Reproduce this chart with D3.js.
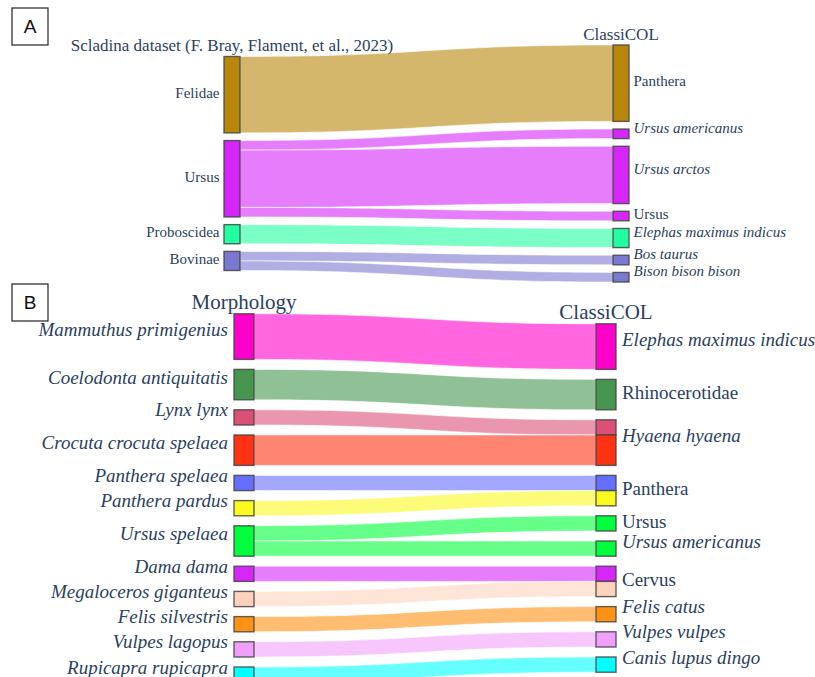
<!DOCTYPE html>
<html>
<head>
<meta charset="utf-8">
<script src="https://cdn.jsdelivr.net/npm/d3@7"></script>
<style>
  html, body { margin: 0; padding: 0; background: #fff; }
  svg { display: block; }
  .lbl, .ttl { font-family: "Liberation Serif", "Times New Roman", serif; fill: #2a3f5f; }
  .tag { font-family: "Liberation Sans", Arial, sans-serif; fill: #111; }
</style>
</head>
<body>
<svg id="chart" width="815" height="677"></svg>
<script>
// ---------- Panel A: Scladina dataset -> ClassiCOL ----------
const aTitles = ["Scladina dataset (F. Bray, Flament, et al., 2023)", "ClassiCOL"];
const aSources = ["Felidae", "Ursus", "Proboscidea", "Bovinae"];
const aSourceColors = ["#b8860b", "#d626fa", "#22ffa0", "#7b78d0"];
const aTargets = ["Panthera", "Ursus americanus", "Ursus arctos", "Ursus",
  "Elephas maximus indicus", "Bos taurus", "Bison bison bison"];
const aLinkSource = ["Felidae", "Ursus", "Ursus", "Ursus", "Proboscidea", "Bovinae", "Bovinae"];
const aLinkTarget = ["Panthera", "Ursus americanus", "Ursus arctos", "Ursus",
  "Elephas maximus indicus", "Bos taurus", "Bison bison bison"];
const aLinkValue = [8, 1, 6, 1, 2, 1, 1];

// ---------- Panel B: Morphology -> ClassiCOL ----------
const bTitles = ["Morphology", "ClassiCOL"];
const bSources = ["Mammuthus primigenius", "Coelodonta antiquitatis", "Lynx lynx",
  "Crocuta crocuta spelaea", "Panthera spelaea", "Panthera pardus", "Ursus spelaea",
  "Dama dama", "Megaloceros giganteus", "Felis silvestris", "Vulpes lagopus",
  "Rupicapra rupicapra"];
const bSourceColors = ["#ff00cc", "#469650", "#dc5078", "#ff3214", "#646eff", "#fafa1e",
  "#00ff3c", "#d626fa", "#ffd2be", "#ff9114", "#f0a0fa", "#00ffff"];
const bTargets = ["Elephas maximus indicus", "Rhinocerotidae", "Hyaena hyaena", "Panthera",
  "Ursus", "Ursus americanus", "Cervus", "Felis catus", "Vulpes vulpes", "Canis lupus dingo"];
const bLinkSource = ["Mammuthus primigenius", "Coelodonta antiquitatis", "Lynx lynx",
  "Crocuta crocuta spelaea", "Panthera spelaea", "Panthera pardus", "Ursus spelaea",
  "Ursus spelaea", "Dama dama", "Megaloceros giganteus", "Felis silvestris",
  "Vulpes lagopus", "Rupicapra rupicapra"];
const bLinkTarget = ["Elephas maximus indicus", "Rhinocerotidae", "Hyaena hyaena",
  "Hyaena hyaena", "Panthera", "Panthera", "Ursus", "Ursus americanus", "Cervus", "Cervus",
  "Felis catus", "Vulpes vulpes", "Canis lupus dingo"];
const bLinkValue = [3, 2, 1, 2, 1, 1, 1, 1, 1, 1, 1, 1, 1];

const svg = d3.select("#chart");

// Binomial (multi-word) names are set in italics, higher ranks upright.
const isItalic = name => name.includes(" ");

function drawSankey(g, cfg) {
  const { sources, sourceColors, targets, linkSource, linkTarget, linkValue, titles } = cfg;
  const x = d3.scaleLinear().domain([0, 1]).range([cfg.xLeft, cfg.xRight]);
  const h = d3.scaleLinear().domain([0, 1]).range([0, cfg.unit]);
  const color = d3.scaleOrdinal().domain(sources).range(sourceColors);

  const links = linkValue.map((v, i) => ({ source: linkSource[i], target: linkTarget[i], value: v }));

  function column(names, key) {
    const nodes = names.map(n => ({
      name: n,
      value: d3.sum(links.filter(l => l[key] === n), l => l.value)
    }));
    const total = h(d3.sum(nodes, d => d.value)) + cfg.pad * (nodes.length - 1);
    let y = cfg.centerY - total / 2;
    nodes.forEach(d => { d.y0 = y; d.y1 = y + h(d.value); y = d.y1 + cfg.pad; });
    return new Map(nodes.map(d => [d.name, d]));
  }
  const srcNodes = column(sources, "source");
  const tgtNodes = column(targets, "target");

  // stack links inside each node
  srcNodes.forEach(n => {
    let y = n.y0;
    links.filter(l => l.source === n.name)
      .sort((a, b) => targets.indexOf(a.target) - targets.indexOf(b.target))
      .forEach(l => { l.sy0 = y; l.sy1 = y + h(l.value); y = l.sy1; });
  });
  tgtNodes.forEach(n => {
    let y = n.y0;
    links.filter(l => l.target === n.name)
      .sort((a, b) => sources.indexOf(a.source) - sources.indexOf(b.source))
      .forEach(l => { l.ty0 = y; l.ty1 = y + h(l.value); y = l.ty1; });
  });

  const x0 = x(0) + cfg.nodeWidth, x1 = x(1), xm = (x0 + x1) / 2;
  const ribbon = l => {
    const p = d3.path();
    p.moveTo(x0, l.sy0);
    p.bezierCurveTo(xm, l.sy0, xm, l.ty0, x1, l.ty0);
    p.lineTo(x1, l.ty1);
    p.bezierCurveTo(xm, l.ty1, xm, l.sy1, x0, l.sy1);
    p.closePath();
    return p.toString();
  };

  g.append("g").selectAll("path").data(links).join("path")
    .attr("d", ribbon)
    .attr("fill", l => color(l.source))
    .attr("fill-opacity", 0.6)
    .attr("stroke", "#fff")
    .attr("stroke-opacity", 0.7)
    .attr("stroke-width", 0.8);

  const nodeStyle = sel => sel
    .attr("width", cfg.nodeWidth)
    .attr("stroke", "#444")
    .attr("stroke-opacity", 0.85)
    .attr("stroke-width", 1.4);

  // source nodes
  g.append("g").selectAll("rect").data([...srcNodes.values()]).join("rect")
    .attr("x", x(0)).attr("y", d => d.y0).attr("height", d => d.y1 - d.y0)
    .attr("fill", d => color(d.name))
    .call(nodeStyle);

  // target nodes, one segment per incoming flow in its source colour
  g.append("g").selectAll("rect").data(links).join("rect")
    .attr("x", x(1)).attr("y", l => l.ty0).attr("height", l => l.ty1 - l.ty0)
    .attr("fill", l => color(l.source))
    .call(nodeStyle);

  const label = (sel, anchor, xPos) => sel
    .attr("class", "lbl")
    .attr("x", xPos)
    .attr("y", d => (d.y0 + d.y1) / 2)
    .attr("dy", d => isItalic(d.name) ? "-0.05em" : "0.22em")
    .attr("text-anchor", anchor)
    .attr("font-size", cfg.fontSize)
    .attr("font-style", d => isItalic(d.name) ? "italic" : "normal")
    .text(d => d.name);

  g.append("g").selectAll("text").data([...srcNodes.values()]).join("text")
    .call(label, "end", x(0) - cfg.labelGap);
  g.append("g").selectAll("text").data([...tgtNodes.values()]).join("text")
    .call(label, "start", x(1) + cfg.nodeWidth + cfg.labelGap);

  // column headings centred above each column
  const firstSrc = srcNodes.get(sources[0]), firstTgt = tgtNodes.get(targets[0]);
  g.append("text").attr("class", "ttl")
    .attr("x", x(0) + cfg.nodeWidth / 2).attr("y", firstSrc.y0 - 5)
    .attr("text-anchor", "middle").attr("font-size", cfg.titleSize)
    .text(titles[0]);
  g.append("text").attr("class", "ttl")
    .attr("x", x(1) + cfg.nodeWidth / 2).attr("y", firstTgt.y0 - 5)
    .attr("text-anchor", "middle").attr("font-size", cfg.titleSize)
    .text(titles[1]);
}

function panelTag(letter, x, y) {
  const g = svg.append("g").attr("transform", `translate(${x},${y})`);
  g.append("rect").attr("width", 36).attr("height", 37)
    .attr("fill", "#fff").attr("stroke", "#222").attr("stroke-width", 1.2);
  g.append("text").attr("class", "tag")
    .attr("x", 18).attr("y", 18.5).attr("dy", "0.35em")
    .attr("text-anchor", "middle").attr("font-size", 19)
    .text(letter);
}

drawSankey(svg.append("g"), {
  sources: aSources, sourceColors: aSourceColors, targets: aTargets,
  linkSource: aLinkSource, linkTarget: aLinkTarget, linkValue: aLinkValue, titles: aTitles,
  xLeft: 224, xRight: 613, nodeWidth: 16, centerY: 163.5, unit: 9.55, pad: 7.67,
  fontSize: 15, titleSize: 17, labelGap: 4.5
});

drawSankey(svg.append("g"), {
  sources: bSources, sourceColors: bSourceColors, targets: bTargets,
  linkSource: bLinkSource, linkTarget: bLinkTarget, linkValue: bLinkValue, titles: bTitles,
  xLeft: 234, xRight: 596, nodeWidth: 20, centerY: 498, unit: 15.2, pad: 10,
  fontSize: 19, titleSize: 21, labelGap: 6
});

panelTag("A", 12, 8);
panelTag("B", 12, 284);
</script>
</body>
</html>
